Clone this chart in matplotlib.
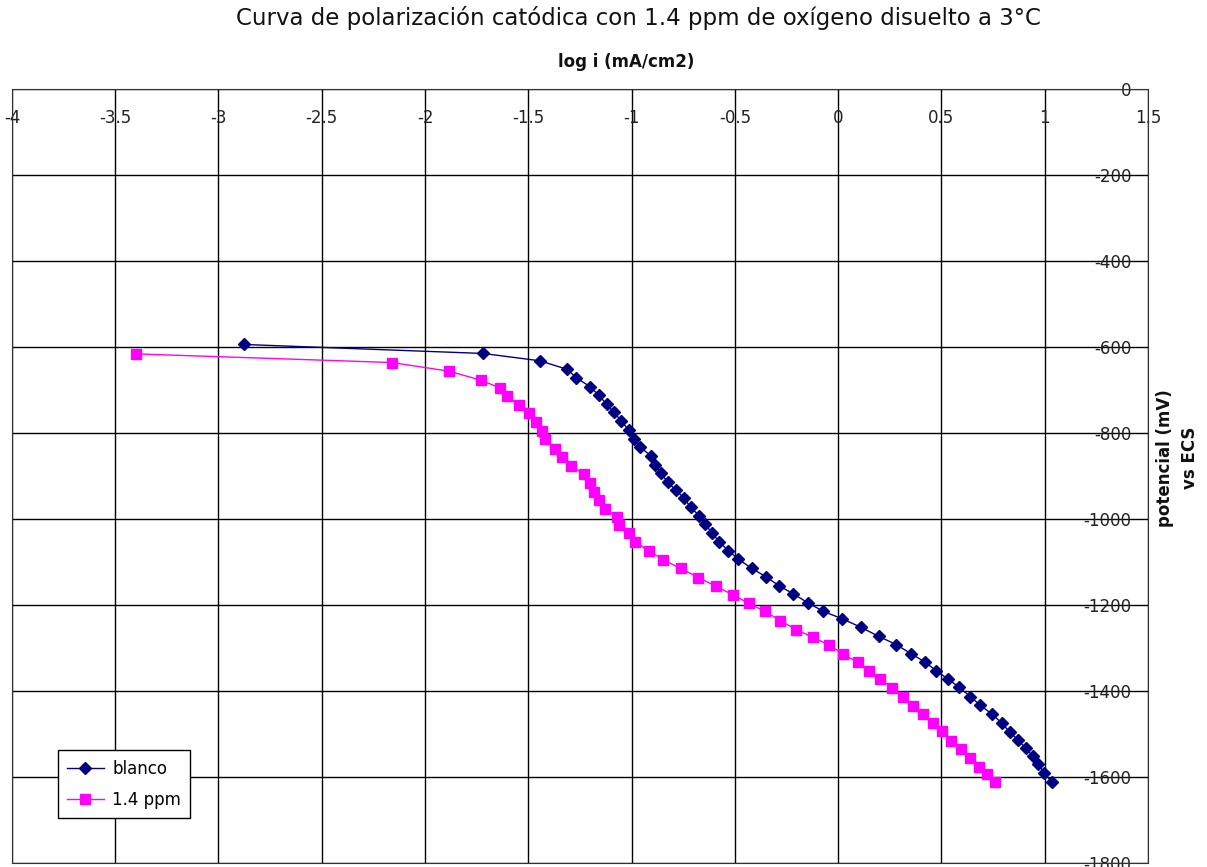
import numpy as np
import matplotlib.pyplot as plt

plt.rcParams['font.family'] = ['DejaVu Sans']

# curva "blanco"
logi_blanco = [-2.878, -1.718, -1.444, -1.311, -1.269, -1.202, -1.159, -1.121, -1.085,
               -1.050, -1.014, -0.988, -0.959, -0.906, -0.885, -0.856, -0.825, -0.785,
               -0.745, -0.714, -0.673, -0.643, -0.610, -0.575, -0.531, -0.484, -0.418,
               -0.350, -0.287, -0.217, -0.146, -0.071, 0.020, 0.111, 0.197, 0.281,
               0.352, 0.422, 0.475, 0.531, 0.585, 0.640, 0.688, 0.743, 0.791, 0.830,
               0.871, 0.908, 0.942, 0.969, 0.998, 1.033]
pot_blanco = [-594, -615, -632, -652, -671, -692, -712, -733, -752,
              -772, -793, -813, -833, -853, -874, -894, -915, -933,
              -952, -973, -992, -1012, -1033, -1053, -1074, -1093, -1115,
              -1134, -1155, -1174, -1195, -1215, -1232, -1252, -1273, -1292,
              -1313, -1333, -1353, -1372, -1391, -1413, -1433, -1453, -1474, -1495,
              -1514, -1533, -1551, -1570, -1591, -1611]

# curva 1.4 ppm
logi_ppm = [-3.398, -2.162, -1.885, -1.730, -1.638, -1.602, -1.547, -1.497, -1.463,
            -1.432, -1.421, -1.371, -1.337, -1.295, -1.231, -1.202, -1.182, -1.157,
            -1.128, -1.072, -1.059, -1.014, -0.984, -0.916, -0.846, -0.762, -0.677,
            -0.593, -0.507, -0.433, -0.354, -0.281, -0.203, -0.123, -0.042, 0.023,
            0.095, 0.149, 0.205, 0.263, 0.313, 0.362, 0.410, 0.459, 0.502, 0.546,
            0.594, 0.636, 0.680, 0.720, 0.761]
pot_ppm = [-616, -636, -656, -677, -695, -714, -735, -754, -774,
           -795, -814, -836, -855, -876, -895, -916, -936, -956,
           -977, -995, -1014, -1033, -1053, -1074, -1095, -1115, -1136,
           -1156, -1177, -1196, -1215, -1236, -1257, -1275, -1293, -1314,
           -1333, -1353, -1373, -1393, -1413, -1434, -1454, -1475, -1494, -1516,
           -1536, -1556, -1576, -1593, -1612]

xticks = np.arange(-4, 1.51, 0.5)
yticks = np.arange(0, -1801, -200)

fig = plt.figure(figsize=(12.07, 8.67), dpi=100)
ax = fig.add_axes([0.0099, 0.0046, 0.9412, 0.8927])

ax.plot(logi_blanco, pot_blanco, '-D', color='#000080', lw=1, ms=6, label='blanco')
ax.plot(logi_ppm, pot_ppm, '-s', color='#FF00FF', lw=1, ms=6.5, label='1.4 ppm')

ax.set_xlim(-4, 1.5)
ax.set_ylim(-1800, 0)
ax.set_xticks(xticks)
ax.set_xticklabels(['%g' % t for t in xticks])
ax.set_yticks(yticks)
ax.set_yticklabels(['%d' % t for t in yticks])
ax.grid(True, color='black', lw=1)
for s in ax.spines.values():
    s.set_color('#333333')

ax.xaxis.tick_top()
ax.tick_params(axis='x', length=0, pad=-27, labelsize=12, colors='#222222')
ax.yaxis.tick_right()
ax.tick_params(axis='y', length=0, pad=-12, labelsize=12, colors='#222222')
for lbl in ax.get_yticklabels():
    lbl.set_horizontalalignment('right')

leg = ax.legend(loc='lower left', bbox_to_anchor=(0.0405, 0.058), borderaxespad=0,
                fontsize=12, fancybox=False, edgecolor='black', framealpha=1,
                handlelength=2.2, handletextpad=0.5, borderpad=0.55, labelspacing=0.8)
leg.get_frame().set_linewidth(1)

fig.text(0.529, 0.979, 'Curva de polarización catódica con 1.4 ppm de oxígeno disuelto a 3°C',
         ha='center', va='center', fontsize=16.5, color='#111111')
fig.text(0.519, 0.928, 'log i (mA/cm2)', ha='center', va='center',
         fontsize=12, fontweight='bold', color='#111111')
fig.text(0.9755, 0.472, 'potencial (mV)\nvs ECS', ha='center', va='center',
         rotation=90, fontsize=12, fontweight='bold', color='#111111', linespacing=1.55)

fig.savefig('out.png', dpi=100)
